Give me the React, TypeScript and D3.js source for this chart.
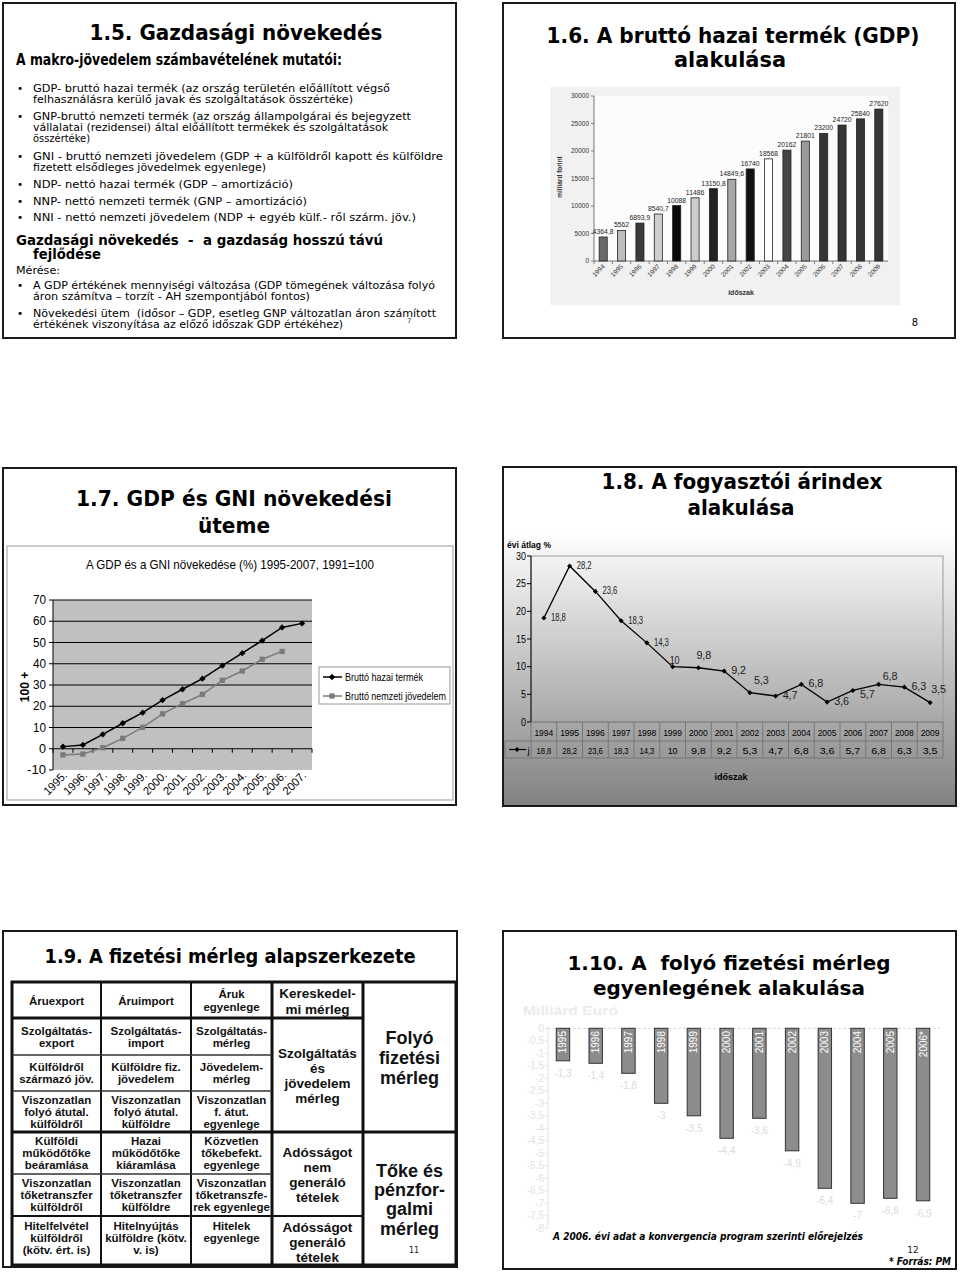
import React from "react";
import * as d3 from "d3";

// ---------- DATA ----------
const gdpYears = ["1994","1995","1996","1997","1998","1999","2000","2001","2002","2003","2004","2005","2006","2007","2008","2009"];
const gdpValues = [4364.8,5562,6893.9,8540.7,10088,11486,13150.8,14849.6,16740,18568,20162,21801,23200,24720,25840,27620];
const gdpYTicks = [0,5000,10000,15000,20000,25000,30000];
const gdpBarFills = ["#6a6a6a","#bdbdbd","#3a3a3a","#cfcfcf","#0a0a0a","#cdcdcd","#222222","#a8a8a8","#111111","#ffffff","#454545","#9a9a9a","#353535","#353535","#353535","#353535"];

const growthYears = ["1995.","1996.","1997.","1998.","1999.","2000.","2001.","2002.","2003.","2004.","2005.","2006.","2007."];
const gdpGrowth = [1,1.8,6.8,12,17,22.9,28,33,39.1,45,50.9,57.1,59];
const gniGrowth = [-2.9,-2.5,0.5,4.9,10.1,16.4,21.2,25.6,32.2,36.6,42.1,45.8];
const growthYTicks = [-10,0,10,20,30,40,50,60,70];

const cpiYears = ["1994","1995","1996","1997","1998","1999","2000","2001","2002","2003","2004","2005","2006","2007","2008","2009"];
const cpiValues = [18.8,28.2,23.6,18.3,14.3,10,9.8,9.2,5.3,4.7,6.8,3.6,5.7,6.8,6.3,3.5];
const cpiYTicks = [0,5,10,15,20,25,30];
const cpiLabelPlacement = ["r","r","r","r","r","a","a2","r","ar","r","r","r","br","tr","r","tr2"];

const caYears = ["1995","1996","1997","1998","1999","2000","2001","2002","2003","2004","2005","2006*"];
const caValues = [-1.3,-1.4,-1.8,-3,-3.5,-4.4,-3.6,-4.9,-6.4,-7,-6.8,-6.9];
const caYTicks = [0,-0.5,-1,-1.5,-2,-2.5,-3,-3.5,-4,-4.5,-5,-5.5,-6,-6.5,-7,-7.5,-8];

const fmt = (v: number) => String(v).replace(".", ",");

const DV = "'DejaVu Sans', Verdana, sans-serif";
const LS = "'Liberation Sans', Arial, sans-serif";

function T(props: any) {
  const { x, y, w, size, anchor = "middle", weight = "bold", family = DV, fill = "#000", italic = false, children } = props;
  return (
    <text x={x} y={y} fontSize={size} fontWeight={weight} fontFamily={family} fill={fill}
      textAnchor={anchor} fontStyle={italic ? "italic" : "normal"}
      textLength={w} lengthAdjust="spacingAndGlyphs" style={{ whiteSpace: "pre" }}>
      {children}
    </text>
  );
}

function Frame({ x, y, w, h }: any) {
  return <rect x={x} y={y} width={w} height={h} fill="#fff" stroke="#1a1a1a" strokeWidth={2} />;
}

// ---------- SLIDE 1.5 ----------
function Slide1() {
  const lines = [
    { t: "GDP- bruttó hazai termék (az ország területén előállított végső", y: 92, w: 357, b: true },
    { t: "felhasználásra kerülő javak és szolgáltatások összértéke)", y: 103, w: 320 },
    { t: "GNP-bruttó nemzeti termék (az ország állampolgárai és bejegyzett", y: 120, w: 378, b: true },
    { t: "vállalatai (rezidensei) által előállított termékek és szolgáltatások", y: 131, w: 355 },
    { t: "összértéke)", y: 142, w: 57 },
    { t: "GNI - bruttó nemzeti jövedelem (GDP + a külföldről kapott és külföldre", y: 160, w: 410, b: true },
    { t: "fizetett elsődleges jövedelmek egyenlege)", y: 171, w: 233 },
    { t: "NDP- nettó hazai termék (GDP – amortizáció)", y: 188, w: 260, b: true },
    { t: "NNP- nettó nemzeti termék (GNP – amortizáció)", y: 205, w: 274, b: true },
    { t: "NNI - nettó nemzeti jövedelem (NDP + egyéb külf.- ről szárm. jöv.)", y: 221, w: 383, b: true },
    { t: "A GDP értékének mennyiségi változása (GDP tömegének változása folyó", y: 289, w: 402, b: true },
    { t: "áron számítva – torzít - AH szempontjából fontos)", y: 300, w: 277 },
    { t: "Növekedési ütem  (idősor – GDP, esetleg GNP változatlan áron számított", y: 317, w: 403, b: true },
    { t: "értékének viszonyítása az előző időszak GDP értékéhez)", y: 328, w: 310 },
  ];
  return (
    <g>
      <Frame x={3} y={3} w={453} h={335} />
      <T x={236} y={40} w={293} size={21}>1.5. Gazdasági növekedés</T>
      <T x={16} y={65} w={326} size={15.5} anchor="start">A makro-jövedelem számbavételének mutatói:</T>
      {lines.map((l, i) => (
        <g key={i}>
          {l.b && <text x={17} y={l.y} fontSize={10.5} fontFamily={DV}>•</text>}
          <T x={33} y={l.y} w={l.w} size={10.5} anchor="start" weight="normal">{l.t}</T>
        </g>
      ))}
      <T x={16} y={245} w={367} size={14} anchor="start">Gazdasági növekedés  -  a gazdaság hosszú távú</T>
      <T x={33} y={259} w={68} size={14} anchor="start">fejlődése</T>
      <T x={16} y={274} w={44} size={10.5} anchor="start" weight="normal">Mérése:</T>
      <text x={407} y={323} fontSize={7} fontFamily={DV} fill="#444">7</text>
    </g>
  );
}

// ---------- SLIDE 1.6 ----------
function Slide2() {
  const x = d3.scaleBand<string>().domain(gdpYears).range([594, 888]).paddingInner(0.56).paddingOuter(0.28);
  const y = d3.scaleLinear().domain([0, 30000]).range([261, 96]);
  const step = x.step();
  return (
    <g>
      <Frame x={503} y={3} w={452} h={335} />
      <T x={733} y={43} w={373} size={21}>1.6. A bruttó hazai termék (GDP)</T>
      <T x={730} y={67} w={112} size={21}>alakulása</T>
      <rect x={550} y={87} width={350} height={218} fill="#f1f1f1" />
      <rect x={594} y={96} width={294} height={165} fill="#fcfcfc" />
      {gdpYTicks.map((t) => (
        <g key={t}>
          <line x1={591} x2={594} y1={y(t)} y2={y(t)} stroke="#555" strokeWidth={0.7} />
          <text x={589} y={y(t) + 2.3} fontSize={6.5} textAnchor="end" fill="#333" fontFamily={LS}>{t}</text>
        </g>
      ))}
      <line x1={594} x2={594} y1={96} y2={261} stroke="#555" strokeWidth={0.8} />
      <line x1={594} x2={888} y1={261} y2={261} stroke="#555" strokeWidth={0.8} />
      {gdpYears.map((yr, i) => {
        const cx = (x(yr) as number) + x.bandwidth() / 2;
        const v = gdpValues[i];
        return (
          <g key={yr}>
            <line x1={cx - step / 2} x2={cx - step / 2} y1={261} y2={264} stroke="#555" strokeWidth={0.7} />
            <rect x={x(yr)} y={y(v)} width={x.bandwidth()} height={y(0) - y(v)} fill={gdpBarFills[i]} stroke="#222" strokeWidth={0.8} />
            <text x={cx} y={y(v) - 3} fontSize={6.8} textAnchor="middle" fill="#222" fontFamily={LS}>{fmt(v)}</text>
            <text transform={`translate(${cx + 2},${267}) rotate(-45)`} fontSize={6.5} textAnchor="end" fill="#333" fontFamily={LS}>{yr}</text>
          </g>
        );
      })}
      <text transform="translate(562,177) rotate(-90)" fontSize={6.5} fontWeight="bold" textAnchor="middle" fill="#333" fontFamily={LS}>milliárd forint</text>
      <text x={741} y={295} fontSize={7} fontWeight="bold" textAnchor="middle" fill="#333" fontFamily={LS}>időszak</text>
      <text x={915} y={326} fontSize={10} textAnchor="middle" fontFamily={DV}>8</text>
    </g>
  );
}

// ---------- SLIDE 1.7 ----------
function Slide3() {
  const x = d3.scaleBand<string>().domain(growthYears).range([53, 312]);
  const y = d3.scaleLinear().domain([-10, 70]).range([770, 600]);
  const cx = (k: string) => (x(k) as number) + x.bandwidth() / 2;
  const gdpLine = d3.line<number>().x((_, i) => cx(growthYears[i])).y((d) => y(d));
  const gniLine = d3.line<number>().x((_, i) => cx(growthYears[i])).y((d) => y(d));
  const diamond = d3.symbol(d3.symbolSquare, 20)() as string;
  const square = d3.symbol(d3.symbolSquare, 28)() as string;
  const tl = (t: number) => (t < 0 ? 19 : t === 0 ? 7 : 13);
  return (
    <g>
      <Frame x={3} y={468} w={453} h={337} />
      <T x={234} y={506} w={316} size={22}>1.7. GDP és GNI növekedési</T>
      <T x={234} y={533} w={72} size={22}>üteme</T>
      <rect x={7} y={546} width={446} height={254} fill="#fff" stroke="#999" strokeWidth={1} />
      <T x={230} y={569} w={288} size={13} weight="normal" family={LS}>A GDP és a GNI növekedése (%) 1995-2007, 1991=100</T>
      <rect x={53} y={600} width={259} height={170} fill="#c0c0c0" />
      {growthYTicks.map((t) => (
        <g key={t}>
          {t > -10 && <line x1={53} x2={312} y1={y(t)} y2={y(t)} stroke="#000" strokeWidth={1} />}
          <line x1={49} x2={53} y1={y(t)} y2={y(t)} stroke="#000" />
          <text x={46} y={y(t) + 4} fontSize={12} textAnchor="end" fontFamily={LS} textLength={tl(t)} lengthAdjust="spacingAndGlyphs">{t}</text>
        </g>
      ))}
      <line x1={53} x2={53} y1={600} y2={770} stroke="#000" />
      {growthYears.map((yr) => (
        <g key={yr}>
          <line x1={(x(yr) as number)} x2={(x(yr) as number)} y1={y(0)} y2={y(0) + 4} stroke="#000" />
          <text transform={`translate(${cx(yr) + 5},${776}) rotate(-45)`} fontSize={11.5} textAnchor="end" fontFamily={LS} textLength={28} lengthAdjust="spacingAndGlyphs">{yr}</text>
        </g>
      ))}
      <line x1={312} x2={312} y1={y(0)} y2={y(0) + 4} stroke="#000" />
      <path d={gniLine(gniGrowth) as string} fill="none" stroke="#7a7a7a" strokeWidth={1.5} />
      {gniGrowth.map((v, i) => (
        <path key={i} d={square} transform={`translate(${cx(growthYears[i])},${y(v)})`} fill="#7a7a7a" />
      ))}
      <path d={gdpLine(gdpGrowth) as string} fill="none" stroke="#000" strokeWidth={1.5} />
      {gdpGrowth.map((v, i) => (
        <path key={i} d={diamond} transform={`translate(${cx(growthYears[i])},${y(v)}) rotate(45)`} fill="#000" />
      ))}
      <text transform="translate(29,687) rotate(-90)" fontSize={12} textAnchor="middle" fontFamily={LS} fontWeight="bold">100 +</text>
      <rect x={319} y={667} width={131} height={37} fill="#fff" stroke="#999" />
      <line x1={323} x2={342} y1={677} y2={677} stroke="#000" strokeWidth={1.5} />
      <path d={diamond} transform="translate(332,677) rotate(45)" fill="#000" />
      <T x={345} y={681} w={78} size={11.5} anchor="start" weight="normal" family={LS}>Bruttó hazai termék</T>
      <line x1={323} x2={342} y1={696} y2={696} stroke="#7a7a7a" strokeWidth={1.5} />
      <path d={square} transform="translate(332,696)" fill="#7a7a7a" />
      <T x={345} y={700} w={101} size={11.5} anchor="start" weight="normal" family={LS}>Bruttó nemzeti jövedelem</T>
    </g>
  );
}

// ---------- SLIDE 1.8 ----------
function Slide4() {
  const x = d3.scaleBand<string>().domain(cpiYears).range([531, 943]);
  const y = d3.scaleLinear().domain([0, 30]).range([722, 556]);
  const cx = (k: string) => (x(k) as number) + x.bandwidth() / 2;
  const line = d3.line<number>().x((_, i) => cx(cpiYears[i])).y((d) => y(d));
  const marker = d3.symbol(d3.symbolSquare, 13)() as string;
  const off: Record<string, [number, number]> = {
    r: [7, 3], a: [-3, -3], a2: [-2, -9], ar: [4, -9], br: [7, 8], tr: [4, -4], tr2: [1, -10],
  };
  return (
    <g>
      <defs>
        <linearGradient id="cpiBg" x1="0" y1="0" x2="0" y2="1">
          <stop offset="0" stopColor="#ffffff" />
          <stop offset="1" stopColor="#828282" />
        </linearGradient>
      </defs>
      <Frame x={503} y={467} w={453} h={339} />
      <rect x={504} y={532} width={451} height={273} fill="url(#cpiBg)" />
      <T x={742} y={489} w={281} size={22}>1.8. A fogyasztói árindex</T>
      <T x={741} y={515} w={107} size={22}>alakulása</T>
      <text x={507} y={548} fontSize={8.5} fontWeight="bold" fontFamily={LS}>évi átlag %</text>
      <rect x={531} y={556} width={412} height={166} fill="none" stroke="#9a9a9a" />
      <line x1={531} x2={531} y1={556} y2={722} stroke="#000" />
      {cpiYTicks.map((t) => (
        <g key={t}>
          <line x1={527} x2={531} y1={y(t)} y2={y(t)} stroke="#000" />
          <text x={526} y={y(t) + 3.5} fontSize={10} textAnchor="end" fontFamily={LS} textLength={t < 10 ? 5 : 10} lengthAdjust="spacingAndGlyphs">{t}</text>
        </g>
      ))}
      <path d={line(cpiValues) as string} fill="none" stroke="#000" strokeWidth={1.3} />
      {cpiValues.map((v, i) => {
        const px = cx(cpiYears[i]);
        const [dx, dy] = off[cpiLabelPlacement[i]];
        return (
          <g key={i}>
            <path d={marker} transform={`translate(${px},${y(v)}) rotate(45)`} fill="#000" />
            <text x={px + dx} y={y(v) + dy} fontSize={10} fontFamily={LS} fill="#222" textLength={fmt(v).length > 2 ? 15 : 10} lengthAdjust="spacingAndGlyphs">{fmt(v)}</text>
          </g>
        );
      })}
      <line x1={531} x2={943} y1={722} y2={722} stroke="#777" />
      <line x1={505} x2={943} y1={741} y2={741} stroke="#777" />
      <line x1={505} x2={943} y1={758} y2={758} stroke="#777" />
      <line x1={505} x2={505} y1={741} y2={758} stroke="#777" />
      {cpiYears.map((yr, i) => (
        <g key={yr}>
          <line x1={x(yr) as number} x2={x(yr) as number} y1={722} y2={758} stroke="#777" />
          <text x={cx(yr)} y={735.5} fontSize={9.5} textAnchor="middle" fontFamily={LS} textLength={19} lengthAdjust="spacingAndGlyphs">{yr}</text>
          <text x={cx(yr)} y={753.5} fontSize={9.5} textAnchor="middle" fontFamily={LS} textLength={fmt(cpiValues[i]).length > 2 ? 15 : 10} lengthAdjust="spacingAndGlyphs">{fmt(cpiValues[i])}</text>
        </g>
      ))}
      <line x1={943} x2={943} y1={722} y2={758} stroke="#777" />
      <line x1={509} x2={526} y1={749.5} y2={749.5} stroke="#000" strokeWidth={1.2} />
      <path d={marker} transform="translate(517,749.5) rotate(45)" fill="#000" />
      <text x={527.5} y={753.5} fontSize={9.5} fontFamily={LS}>j</text>
      <text x={731} y={780} fontSize={9} fontWeight="bold" textAnchor="middle" fontFamily={LS}>időszak</text>
    </g>
  );
}

// ---------- SLIDE 1.9 ----------
function Slide5() {
  const c1 = 56.5, c2 = 146, c3 = 231.5, c4 = 317.5, c5 = 409.5;
  const cells: { x: number; ys: number[]; lines: string[]; size: number }[] = [
    { x: c1, ys: [1001], lines: ["Áruexport"], size: 11.5 },
    { x: c2, ys: [1001], lines: ["Áruimport"], size: 11.5 },
    { x: c3, ys: [994, 1007], lines: ["Áruk", "egyenlege"], size: 11.5 },
    { x: c4, ys: [993, 1009], lines: ["Kereskedel-", "mi mérleg"], size: 13.5 },
    { x: c1, ys: [1031, 1043], lines: ["Szolgáltatás-", "export"], size: 11.5 },
    { x: c2, ys: [1031, 1043], lines: ["Szolgáltatás-", "import"], size: 11.5 },
    { x: c3, ys: [1031, 1043], lines: ["Szolgáltatás-", "mérleg"], size: 11.5 },
    { x: c1, ys: [1067, 1079], lines: ["Külföldről", "származó jöv."], size: 11.5 },
    { x: c2, ys: [1067, 1079], lines: ["Külföldre fiz.", "jövedelem"], size: 11.5 },
    { x: c3, ys: [1067, 1079], lines: ["Jövedelem-", "mérleg"], size: 11.5 },
    { x: c1, ys: [1100, 1112, 1124], lines: ["Viszonzatlan", "folyó átutal.", "külföldről"], size: 11.5 },
    { x: c2, ys: [1100, 1112, 1124], lines: ["Viszonzatlan", "folyó átutal.", "külföldre"], size: 11.5 },
    { x: c3, ys: [1100, 1112, 1124], lines: ["Viszonzatlan", "f. átut.", "egyenlege"], size: 11.5 },
    { x: c1, ys: [1141, 1153, 1165], lines: ["Külföldi", "működőtőke", "beáramlása"], size: 11.5 },
    { x: c2, ys: [1141, 1153, 1165], lines: ["Hazai", "működőtőke", "kiáramlása"], size: 11.5 },
    { x: c3, ys: [1141, 1153, 1165], lines: ["Közvetlen", "tőkebefekt.", "egyenlege"], size: 11.5 },
    { x: c1, ys: [1183, 1195, 1207], lines: ["Viszonzatlan", "tőketranszfer", "külföldről"], size: 11.5 },
    { x: c2, ys: [1183, 1195, 1207], lines: ["Viszonzatlan", "tőketranszfer", "külföldre"], size: 11.5 },
    { x: c3, ys: [1183, 1195, 1207], lines: ["Viszonzatlan", "tőketranszfe-", "rek egyenlege"], size: 11.5 },
    { x: c1, ys: [1226, 1238, 1250], lines: ["Hitelfelvétel", "külföldről", "(kötv. ért. is)"], size: 11.5 },
    { x: c2, ys: [1226, 1238, 1250], lines: ["Hitelnyújtás", "külföldre (kötv.", "v. is)"], size: 11.5 },
    { x: c3, ys: [1226, 1238], lines: ["Hitelek", "egyenlege"], size: 11.5 },
    { x: c4, ys: [1053, 1068, 1083, 1098], lines: ["Szolgáltatás", "és", "jövedelem", "mérleg"], size: 13.5 },
    { x: c4, ys: [1152, 1167, 1182, 1197], lines: ["Adósságot", "nem", "generáló", "tételek"], size: 13.5 },
    { x: c4, ys: [1227, 1242, 1257], lines: ["Adósságot", "generáló", "tételek"], size: 13.5 },
    { x: c5, ys: [1038, 1058, 1078], lines: ["Folyó", "fizetési", "mérleg"], size: 18 },
    { x: c5, ys: [1171, 1190, 1209, 1229], lines: ["Tőke és", "pénzfor-", "galmi", "mérleg"], size: 18 },
  ];
  return (
    <g>
      <Frame x={3} y={931} w={454} h={336} />
      <T x={230} y={963} w={371} size={20}>1.9. A fizetési mérleg alapszerkezete</T>
      <rect x={12} y={982} width={444} height={283} fill="#fff" stroke="#111" strokeWidth={3} />
      <line x1={101} x2={101} y1={982} y2={1265} stroke="#111" strokeWidth={2} />
      <line x1={191} x2={191} y1={982} y2={1265} stroke="#111" strokeWidth={2} />
      <line x1={272} x2={272} y1={982} y2={1265} stroke="#111" strokeWidth={3} />
      <line x1={363} x2={363} y1={982} y2={1265} stroke="#111" strokeWidth={3} />
      <line x1={12} x2={363} y1={1018} y2={1018} stroke="#111" strokeWidth={3} />
      <line x1={12} x2={272} y1={1055} y2={1055} stroke="#333" strokeWidth={1.5} />
      <line x1={12} x2={272} y1={1091} y2={1091} stroke="#333" strokeWidth={1.5} />
      <line x1={12} x2={456} y1={1132} y2={1132} stroke="#111" strokeWidth={3} />
      <line x1={12} x2={272} y1={1174} y2={1174} stroke="#333" strokeWidth={1.5} />
      <line x1={12} x2={363} y1={1216} y2={1216} stroke="#111" strokeWidth={2} />
      {cells.map((c, i) => (
        <g key={i}>
          {c.lines.map((l, j) => (
            <text key={j} x={c.x} y={c.ys[j]} dy="0.35em" fontSize={c.size} fontWeight="bold" fontFamily={LS} textAnchor="middle" fill="#111">{l}</text>
          ))}
        </g>
      ))}
      <text x={414} y={1253} fontSize={8} textAnchor="middle" fontFamily={DV} fill="#222">11</text>
    </g>
  );
}

// ---------- SLIDE 1.10 ----------
function Slide6() {
  const x = d3.scaleBand<string>().domain(caYears).range([546.6, 939.4]).paddingInner(0.59).paddingOuter(0.295);
  const y = d3.scaleLinear().domain([0, -8]).range([1028.3, 1228.3]);
  const faint = "#e2e2e2";
  return (
    <g>
      <Frame x={503} y={931} w={453} h={338} />
      <T x={729} y={970} w={323} size={19}>1.10. A  folyó fizetési mérleg</T>
      <T x={729} y={995} w={272} size={19}>egyenlegének alakulása</T>
      <T x={523} y={1015} w={95} size={13} anchor="start" family={LS} fill="#ebebeb">Milliárd Euró</T>
      <line x1={548} x2={548} y1={1028} y2={1228} stroke={faint} />
      {caYTicks.map((t) => (
        <g key={t}>
          <line x1={545} x2={548} y1={y(t)} y2={y(t)} stroke={faint} />
          <text x={544} y={y(t) + 3.5} fontSize={10} textAnchor="end" fontFamily={LS} fill={faint}>{fmt(t)}</text>
        </g>
      ))}
      <line x1={548} x2={940} y1={y(0)} y2={y(0)} stroke="#d8d8d8" strokeDasharray="3,2" />
      {caYears.map((yr, i) => {
        const v = caValues[i];
        const cx = (x(yr) as number) + x.bandwidth() / 2;
        return (
          <g key={yr}>
            <rect x={x(yr)} y={y(0)} width={x.bandwidth()} height={y(v) - y(0)} fill="#8c8c8c" stroke="#333" strokeWidth={1} />
            <text transform={`translate(${cx},${1031}) rotate(-90)`} fontSize={10} textAnchor="end" dominantBaseline="central" fill="#fff" fontFamily={LS}>{yr}</text>
            <text x={cx} y={y(v) + 16} fontSize={10} textAnchor="middle" fill="#dcdcdc" fontFamily={LS}>{fmt(v)}</text>
          </g>
        );
      })}
      <T x={553} y={1240} w={310} size={11} anchor="start" italic>A 2006. évi adat a konvergencia program szerinti előrejelzés</T>
      <text x={913} y={1253} fontSize={9} textAnchor="middle" fontFamily={DV} fill="#222">12</text>
      <T x={951} y={1265} w={62} size={10.5} anchor="end" italic>* Forrás: PM</T>
    </g>
  );
}

export default function App() {
  return (
    <svg width={960} height={1272} style={{ position: "absolute", left: 0, top: 0 }} xmlns="http://www.w3.org/2000/svg">
      <rect width={960} height={1272} fill="#fff" />
      <Slide1 />
      <Slide2 />
      <Slide3 />
      <Slide4 />
      <Slide5 />
      <Slide6 />
    </svg>
  );
}
